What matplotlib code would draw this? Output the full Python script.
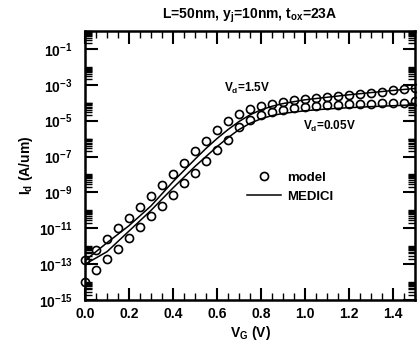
import numpy as np
import matplotlib
matplotlib.use("Agg")
import matplotlib.pyplot as plt
from matplotlib.ticker import FixedLocator, NullFormatter, FuncFormatter

plt.rcParams.update({
    "font.family": ["Liberation Sans", "DejaVu Sans"],
    "font.weight": "bold",
    "mathtext.fontset": "custom",
    "mathtext.rm": "Liberation Sans:bold",
    "mathtext.it": "Liberation Sans:bold",
    "mathtext.bf": "Liberation Sans:bold",
    "mathtext.default": "bf",
})

## Data ########################

# model (circles), Vg step 0.05 V, log10(Id)
vg_model = np.round(np.arange(0, 1.5001, 0.05), 2)
log_model_hi = [-12.77, -12.21, -11.60, -10.98, -10.43, -9.81, -9.20, -8.59, -7.97, -7.36,
                -6.69, -6.13, -5.52, -5.02, -4.63, -4.35, -4.18, -4.07, -3.96, -3.87,
                -3.80, -3.74, -3.68, -3.62, -3.56, -3.50, -3.44, -3.38, -3.32, -3.26, -3.20]
log_model_lo = [-14.00, -13.33, -12.71, -12.16, -11.54, -10.93, -10.31, -9.76, -9.14, -8.47,
                -7.92, -7.25, -6.63, -6.08, -5.35, -4.96, -4.68, -4.51, -4.40, -4.29,
                -4.22, -4.18, -4.15, -4.12, -4.10, -4.08, -4.06, -4.04, -4.02, -4.00, -3.92]

# MEDICI (lines)
vg_medici = [0.0, 0.1, 0.2, 0.3, 0.4, 0.5, 0.55, 0.6, 0.65, 0.7, 0.75, 0.8, 0.85, 0.9,
             1.0, 1.1, 1.2, 1.3, 1.4, 1.5]
log_medici_hi = [-12.80, -11.80, -10.85, -9.75, -8.40, -7.15, -6.55, -6.00, -5.50, -5.05,
                 -4.68, -4.40, -4.20, -4.05, -3.84, -3.70, -3.56, -3.44, -3.32, -3.21]
log_medici_lo = [-13.00, -12.30, -11.15, -10.00, -8.75, -7.55, -7.00, -6.45, -5.95, -5.50,
                 -5.15, -4.90, -4.72, -4.60, -4.45, -4.35, -4.28, -4.22, -4.17, -4.12]

yticks_exp = [-15, -13, -11, -9, -7, -5, -3, -1]

## Plot ########################

fig = plt.figure(figsize=(4.17, 3.43), dpi=100)
ax = fig.add_axes([0.204, 0.125, 0.791, 0.785])

ms = 5.8
mew = 1.2
lw = 1.1

ax.plot(vg_model, 10.0**np.array(log_model_hi), 'o', mfc='none', mec='k', ms=ms, mew=mew,
        label='model', clip_on=False)
ax.plot(vg_model, 10.0**np.array(log_model_lo), 'o', mfc='none', mec='k', ms=ms, mew=mew,
        clip_on=False)
ax.plot(vg_medici, 10.0**np.array(log_medici_hi), 'k-', lw=lw, label='MEDICI')
ax.plot(vg_medici, 10.0**np.array(log_medici_lo), 'k-', lw=lw)

ax.set_yscale('log')
ax.set_xlim(0, 1.5)
ax.set_ylim(1e-15, 1)

ax.set_xticks(np.arange(0, 1.41, 0.2))
ax.set_xticks(np.arange(0, 1.51, 0.05), minor=True)
ax.xaxis.set_major_formatter(FuncFormatter(lambda v, p: "%.1f" % v))

# major ticks every two decades, minor ticks inside the labelled decades
ax.yaxis.set_major_locator(FixedLocator([10.0**e for e in yticks_exp]))
ax.yaxis.set_major_formatter(FuncFormatter(lambda v, p: r"$10^{%d}$" % round(np.log10(v))))
minor_y = [s * 10.0**e for e in yticks_exp for s in range(2, 11)]
ax.yaxis.set_minor_locator(FixedLocator(minor_y))
ax.yaxis.set_minor_formatter(NullFormatter())

ax.tick_params(which='both', direction='in', top=True, right=True, labelsize=10)
ax.tick_params(which='major', length=9, width=1.5)
ax.tick_params(axis='y', which='major', pad=9)
ax.tick_params(axis='x', which='major', pad=5)
ax.tick_params(which='minor', length=5, width=1.0)
for s in ax.spines.values():
    s.set_linewidth(1.8)

ax.set_xlabel(r"V$_G$ (V)", fontsize=10, fontweight='bold', labelpad=2)
ax.set_ylabel(r"I$_d$ (A/um)", fontsize=10, fontweight='bold', labelpad=3)
ax.set_title(r"L=50nm, y$_j$=10nm, t$_{ox}$=23A", fontsize=10, fontweight='bold', pad=9)

ax.text(0.63, 10**-3.2, r"V$_d$=1.5V", fontsize=8.5, fontweight='bold', ha='left', va='center')
ax.text(1.11, 10**-5.35, r"V$_d$=0.05V", fontsize=8.5, fontweight='bold', ha='center', va='center')

leg = ax.legend(loc='center left', bbox_to_anchor=(0.47, 0.42), frameon=False,
                fontsize=9.5, handlelength=2.6, handletextpad=0.5, labelspacing=0.5, borderpad=0)

fig.savefig("out.png", dpi=100)
